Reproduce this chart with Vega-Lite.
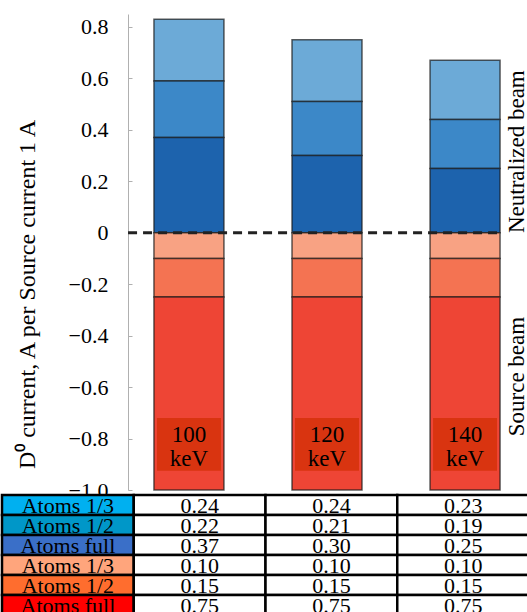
{
  "$schema": "https://vega.github.io/schema/vega-lite/v6.json",
  "padding": {"left": 0, "top": 14, "right": 0, "bottom": 0},
  "bounds": "flush",
  "spacing": 5,
  "config": {"font": "Liberation Serif", "view": {"stroke": null}},
  "datasets": {
    "bars": [
      {"E": "100", "comp": "N13", "value": 0.24, "ord": 3},
      {"E": "100", "comp": "N12", "value": 0.22, "ord": 2},
      {"E": "100", "comp": "NF", "value": 0.37, "ord": 1},
      {"E": "100", "comp": "S13", "value": -0.10, "ord": 1},
      {"E": "100", "comp": "S12", "value": -0.15, "ord": 2},
      {"E": "100", "comp": "SF", "value": -0.75, "ord": 3},
      {"E": "120", "comp": "N13", "value": 0.24, "ord": 3},
      {"E": "120", "comp": "N12", "value": 0.21, "ord": 2},
      {"E": "120", "comp": "NF", "value": 0.30, "ord": 1},
      {"E": "120", "comp": "S13", "value": -0.10, "ord": 1},
      {"E": "120", "comp": "S12", "value": -0.15, "ord": 2},
      {"E": "120", "comp": "SF", "value": -0.75, "ord": 3},
      {"E": "140", "comp": "N13", "value": 0.23, "ord": 3},
      {"E": "140", "comp": "N12", "value": 0.19, "ord": 2},
      {"E": "140", "comp": "NF", "value": 0.25, "ord": 1},
      {"E": "140", "comp": "S13", "value": -0.10, "ord": 1},
      {"E": "140", "comp": "S12", "value": -0.15, "ord": 2},
      {"E": "140", "comp": "SF", "value": -0.75, "ord": 3}
    ],
    "names": [
      {"comp": "N13", "name": "Atoms 1/3"},
      {"comp": "N12", "name": "Atoms 1/2"},
      {"comp": "NF", "name": "Atoms full"},
      {"comp": "S13", "name": "Atoms 1/3"},
      {"comp": "S12", "name": "Atoms 1/2"},
      {"comp": "SF", "name": "Atoms full"}
    ],
    "energies": [
      {"E": "100", "lab": "100 keV"},
      {"E": "120", "lab": "120 keV"},
      {"E": "140", "lab": "140 keV"}
    ]
  },
  "vconcat": [
    {
      "width": 398,
      "height": 476,
      "encoding": {
        "x": {"field": "E", "type": "nominal", "scale": {"domain": ["100", "120", "140"], "paddingInner": 0.493, "paddingOuter": 0.188}, "axis": null}
      },
      "layer": [
        {
          "data": {"name": "bars"},
          "mark": {"type": "bar", "stroke": "#1a1a1a", "strokeOpacity": 0.7, "strokeWidth": 1.5},
          "encoding": {
            "y": {
              "field": "value", "type": "quantitative", "stack": "zero",
              "scale": {"domain": [-1, 0.85], "nice": false, "zero": false},
              "axis": {
                "title": "D⁰ current, A per Source current 1 A",
                "values": [-1, -0.8, -0.6, -0.4, -0.2, 0, 0.2, 0.4, 0.6, 0.8],
                "labelExpr": "datum.value == 0 ? '0' : format(datum.value, '.1f')",
                "labelFontSize": 22, "labelColor": "black", "labelFont": "Liberation Serif",
                "titleFontSize": 24, "titleFontWeight": "normal", "titleColor": "black", "titleFont": "Liberation Serif",
                "domainColor": "#b0b0b0", "tickColor": "#b0b0b0", "tickSize": -4, "labelPadding": 24,
                "grid": false, "titleX": -101, "titleY": 280, "titleBaseline": "middle", "titleAlign": "center", "titleAngle": -90
              }
            },
            "color": {
              "field": "comp", "type": "nominal", "legend": null,
              "scale": {"domain": ["N13", "N12", "NF", "S13", "S12", "SF"], "range": ["#6CAAD7", "#3C88C8", "#1D63AD", "#F8A283", "#F47352", "#EE4535"]}
            },
            "order": {"field": "ord", "type": "quantitative"}
          }
        },
        {
          "data": {"values": [{}]},
          "mark": {"type": "rule", "strokeDash": [9, 6], "strokeWidth": 3, "color": "#222222"},
          "encoding": {
            "y": {"datum": 0, "type": "quantitative"},
            "x": {"datum": "100", "bandPosition": -0.37},
            "x2": {"datum": "140", "bandPosition": 1}
          }
        },
        {
          "data": {"name": "energies"},
          "mark": {"type": "bar", "color": "#D93410", "opacity": 1, "width": {"band": 0.914}},
          "encoding": {
            "y": {"datum": -0.72, "type": "quantitative"},
            "y2": {"datum": -0.925}
          }
        },
        {
          "data": {"name": "energies"},
          "mark": {"type": "text", "fontSize": 23, "lineBreak": " ", "lineHeight": 24, "baseline": "middle", "color": "black"},
          "encoding": {
            "y": {"datum": -0.785, "type": "quantitative"},
            "text": {"field": "lab"}
          }
        },
        {
          "data": {"values": [{}]},
          "mark": {"type": "text", "text": "Neutralized beam", "angle": 270, "fontSize": 23, "baseline": "alphabetic", "align": "center", "color": "black"},
          "encoding": {
            "x": {"datum": "140", "bandPosition": 1.34},
            "y": {"datum": 0.315, "type": "quantitative"}
          }
        },
        {
          "data": {"values": [{}]},
          "mark": {"type": "text", "text": "Source beam", "angle": 270, "fontSize": 23, "baseline": "alphabetic", "align": "center", "color": "black"},
          "encoding": {
            "x": {"datum": "140", "bandPosition": 1.34},
            "y": {"datum": -0.559, "type": "quantitative"}
          }
        }
      ]
    },
    {
      "width": 401,
      "height": 120,
      "encoding": {
        "y": {"field": "comp", "type": "nominal", "scale": {"domain": ["N13", "N12", "NF", "S13", "S12", "SF"], "paddingInner": 0, "paddingOuter": 0}, "axis": null}
      },
      "layer": [
        {
          "data": {"name": "names"},
          "mark": {"type": "rect", "stroke": "black", "strokeWidth": 2.5},
          "encoding": {
            "x": {"datum": "label", "type": "nominal", "scale": {"domain": ["label", "100", "120", "140"], "range": [-126, 401], "paddingInner": 0, "paddingOuter": 0}, "axis": null},
            "fill": {
              "field": "comp", "type": "nominal", "legend": null,
              "scale": {"domain": ["N13", "N12", "NF", "S13", "S12", "SF"], "range": ["#00B0F0", "#0097C8", "#3A6FC8", "#FFA57C", "#FF6D2E", "#FF0000"]}
            }
          }
        },
        {
          "data": {"name": "bars"},
          "mark": {"type": "rect", "fill": "white", "stroke": "black", "strokeWidth": 2.5},
          "encoding": {
            "x": {"field": "E", "type": "nominal"}
          }
        },
        {
          "data": {"name": "bars"},
          "transform": [{"calculate": "abs(datum.value)", "as": "absval"}],
          "mark": {"type": "text", "fontSize": 22, "baseline": "middle", "color": "black", "dy": 1},
          "encoding": {
            "x": {"field": "E", "type": "nominal"},
            "text": {"field": "absval", "format": ".2f"}
          }
        },
        {
          "data": {"name": "names"},
          "mark": {"type": "text", "fontSize": 22, "baseline": "middle", "color": "black", "dy": 1},
          "encoding": {
            "x": {"datum": "label", "type": "nominal"},
            "text": {"field": "name"}
          }
        }
      ]
    }
  ]
}
